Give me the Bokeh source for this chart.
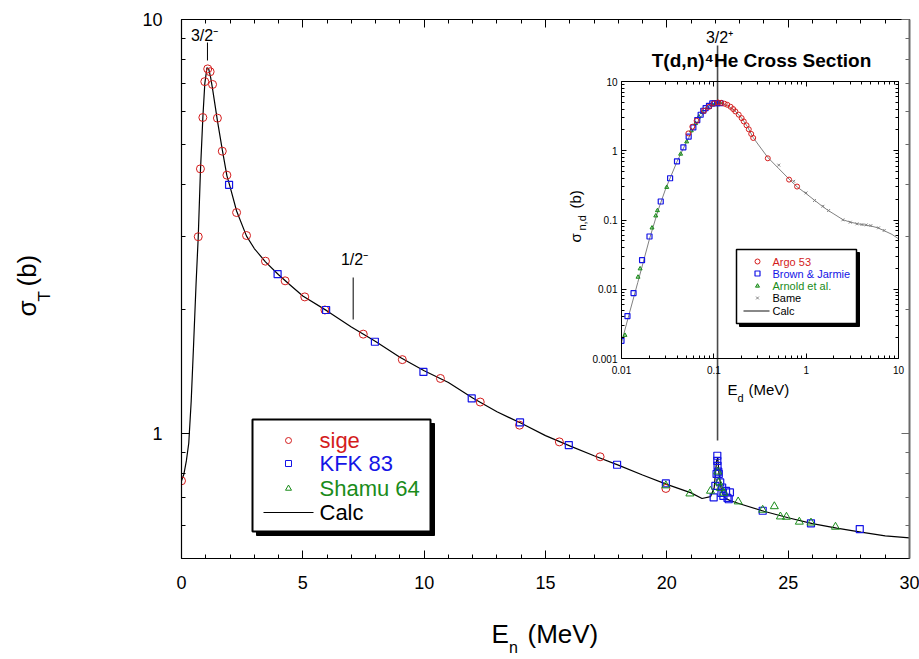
import math
from bokeh.plotting import figure
from bokeh.models import LinearAxis, LogAxis, FixedTicker, Label, CustomJSTickFormatter, Range1d
from bokeh.embed import file_html
from bokeh.resources import INLINE

# ---------------- main plot data: n + 3He total cross section ----------------
sige_E = [0.0, 0.69, 0.78, 0.88, 0.96, 1.08, 1.18, 1.28, 1.48, 1.68, 1.87, 2.27, 2.68,
          3.46, 4.27, 5.08, 5.91, 7.49, 9.10, 10.67, 12.31, 13.93, 15.57, 17.25, 19.96]
sige_sig = [0.77, 2.99, 4.36, 5.80, 7.08, 7.60, 7.48, 6.97, 5.78, 4.81, 4.21, 3.42, 3.01,
            2.61, 2.34, 2.14, 1.99, 1.74, 1.51, 1.36, 1.193, 1.049, 0.956, 0.88, 0.738]

kfk_E = [1.96, 3.96, 5.96, 7.97, 9.97, 11.96, 13.95, 15.96, 17.95, 19.96,
         21.93, 22.0, 22.05, 22.08, 22.08, 22.09, 22.12, 22.14, 22.2, 22.25, 22.28,
         22.33, 22.44, 22.5, 22.55, 22.6, 23.95, 25.94, 27.95]
kfk_sig = [3.99, 2.43, 1.99, 1.668, 1.41, 1.217, 1.065, 0.939, 0.842, 0.759,
           0.702, 0.749, 0.80, 0.885, 0.86, 0.837, 0.81, 0.80, 0.763, 0.72, 0.742,
           0.708, 0.728, 0.70, 0.695, 0.722, 0.652, 0.608, 0.589]

shamu_E = [19.96, 20.95, 21.8, 22.1, 22.14, 22.2, 22.35, 22.94, 23.95, 24.43, 24.68,
           24.93, 25.46, 25.94, 26.95]
shamu_sig = [0.75, 0.717, 0.728, 0.81, 0.763, 0.74, 0.72, 0.686, 0.655, 0.668, 0.631,
             0.630, 0.613, 0.61, 0.596]

calc_E = [0, 0.1, 0.2, 0.3, 0.4, 0.5, 0.6, 0.69, 0.78, 0.88, 0.96, 1.05, 1.12, 1.2, 1.28,
          1.48, 1.68, 1.87, 2.0, 2.27, 2.68, 3.0, 3.46, 4.0, 4.5, 5.0, 6.0, 7.0, 8.0, 9.0,
          10, 11, 12, 13, 14, 15, 16, 17, 18, 19, 20, 21, 21.45, 21.8, 21.95, 22.05,
          22.1, 22.15, 22.25, 22.4, 22.6, 23, 24, 25, 26, 27, 28, 29, 30]
calc_sig = [0.77, 0.80, 0.86, 0.95, 1.2, 1.65, 2.3, 2.99, 4.3, 5.8, 7.0, 7.65, 7.6, 7.25,
            6.8, 5.7, 4.85, 4.2, 3.95, 3.45, 3.0, 2.8, 2.6, 2.42, 2.28, 2.15, 1.98, 1.81,
            1.67, 1.53, 1.42, 1.33, 1.22, 1.13, 1.06, 0.99, 0.935, 0.885, 0.84, 0.795,
            0.755, 0.72, 0.698, 0.705, 0.74, 0.86, 0.875, 0.80, 0.73, 0.70, 0.69, 0.678,
            0.65, 0.627, 0.607, 0.592, 0.579, 0.567, 0.561]

level_E = [1.07, 7.075, 22.09]
level_labels = ["3/2\u207b", "1/2\u207b", "3/2\u207a"]

main_xticks = [0, 5, 10, 15, 20, 25, 30]
main_yticks = [1, 10]

legend_names = ["sige", "KFK 83", "Shamu 64", "Calc"]

# ---------------- inset data: T(d,n)4He ----------------
argo_E = [0.053, 0.0585, 0.0651, 0.0782, 0.0886, 0.100, 0.111, 0.120, 0.131, 0.140,
          0.152, 0.162, 0.171, 0.186, 0.200, 0.211, 0.226, 0.239, 0.254, 0.267, 0.384,
          0.653, 0.797]
argo_sig = [1.78, 2.22, 2.71, 3.78, 4.31, 4.82, 4.98, 4.93, 4.77, 4.61, 4.31, 4.0, 3.70,
            3.32, 2.96, 2.65, 2.33, 2.04, 1.75, 1.53, 0.778, 0.383, 0.304]

brown_E = [0.01, 0.0116, 0.0135, 0.0167, 0.0201, 0.0266, 0.0336, 0.0399, 0.0468, 0.0534,
           0.060, 0.0662, 0.0720, 0.0769, 0.0815, 0.0886, 0.0962, 0.102, 0.109, 0.118]
brown_sig = [0.0018, 0.0041, 0.0088, 0.0264, 0.0578, 0.185, 0.401, 0.704, 1.12, 1.60,
             2.17, 2.77, 3.31, 3.78, 4.13, 4.46, 4.82, 4.88, 4.88, 4.88]

arnold_E = [0.0109, 0.0151, 0.0159, 0.0214, 0.0235, 0.0245, 0.0309, 0.0437, 0.0508,
            0.057, 0.0635, 0.069, 0.075, 0.085, 0.096, 0.1045, 0.116]
arnold_sig = [0.00217, 0.015, 0.0198, 0.077, 0.115, 0.137, 0.297, 0.897, 1.35, 1.95,
              2.48, 3.10, 3.57, 4.22, 4.61, 4.88, 4.98]

bame_E = [0.505, 0.733, 0.997, 1.23, 1.52, 1.75, 2.50, 3.00, 3.55, 4.02, 4.47, 5.02,
          6.08, 7.0]
bame_sig = [0.62, 0.362, 0.246, 0.191, 0.158, 0.137, 0.1005, 0.093, 0.088, 0.086, 0.085,
            0.083, 0.077, 0.0706]

icalc_E = [0.01, 0.012, 0.015, 0.02, 0.025, 0.03, 0.04, 0.05, 0.06, 0.07, 0.08, 0.09,
           0.10, 0.11, 0.12, 0.14, 0.17, 0.2, 0.23, 0.267, 0.3, 0.384, 0.5, 0.653, 0.8,
           1.0, 1.25, 1.5, 1.75, 2.0, 2.5, 3.0, 4.0, 5.0, 6.0, 7.0, 8.5, 10]
icalc_sig = [0.0017, 0.0042, 0.0125, 0.052, 0.14, 0.28, 0.70, 1.30, 2.05, 2.9, 3.65, 4.3,
             4.75, 4.95, 4.9, 4.5, 3.75, 2.96, 2.25, 1.55, 1.25, 0.80, 0.56, 0.39, 0.30,
             0.24, 0.19, 0.157, 0.136, 0.122, 0.101, 0.093, 0.086, 0.082, 0.077, 0.07,
             0.062, 0.0535]

inset_xticks = [0.01, 0.1, 1, 10]
inset_yticks = [0.001, 0.01, 0.1, 1, 10]
inset_legend_names = ["Argo 53", "Brown & Jarmie", "Arnold et al.", "Bame", "Calc"]
inset_title = "T(d,n)\u2074He Cross Section"

# ---------------- styles ----------------
RED = "#d41c1c"
BLUE = "#1414e6"
GREEN = "#1a8c1a"
GRAY = "#808080"
FONT = "Liberation Sans"

W, H = 919, 659
FL, FR, FT, FB = 181, 909, 19, 558
X0, X1, Y0, Y1 = 0.0, 30.0, 0.5, 10.0


def mx(px):
    return X0 + (px - FL) / (FR - FL) * (X1 - X0)


def my(py):
    ly0, ly1 = math.log10(Y0), math.log10(Y1)
    return 10 ** (ly1 - (py - FT) / (FB - FT) * (ly1 - ly0))


def lab(fig, x, y, text, size, color="black", align="left", baseline="middle",
        angle=0.0, bold=False):
    fig.add_layout(Label(x=x, y=y, text=text, text_font=FONT,
                         text_font_size=f"{size}px", text_color=color,
                         text_align=align, text_baseline=baseline, angle=angle,
                         text_font_style="bold" if bold else "normal"))


def style_axis(ax, major_in, minor_in, size, standoff, labels=True, color="black", lw=1.2):
    ax.major_tick_in = major_in
    ax.major_tick_out = 0
    ax.minor_tick_in = minor_in
    ax.minor_tick_out = 0
    ax.axis_line_color = color
    ax.axis_line_width = lw
    ax.major_tick_line_color = color
    ax.minor_tick_line_color = color
    ax.major_label_text_font = FONT
    ax.major_label_text_font_size = f"{size}px"
    ax.major_label_standoff = standoff
    ax.major_label_text_color = "black"
    if labels:
        ax.formatter = CustomJSTickFormatter(code="return tick.toString();")
    else:
        ax.formatter = CustomJSTickFormatter(code="return '';")


# ================= main figure =================
p = figure(width=W, height=H, x_range=(X0, X1), y_range=(Y0, Y1), y_axis_type="log",
           output_backend="svg", toolbar_location=None,
           min_border_left=FL, min_border_right=W - FR, min_border_top=FT,
           min_border_bottom=H - FB)
p.xgrid.visible = False
p.ygrid.visible = False
p.outline_line_color = None
p.background_fill_color = "white"
p.border_fill_color = "white"

x_minor = list(range(0, 31))
y_minor = [0.6, 0.7, 0.8, 0.9] + list(range(2, 10))

p.xaxis.ticker = FixedTicker(ticks=main_xticks, minor_ticks=x_minor)
p.yaxis.ticker = FixedTicker(ticks=main_yticks, minor_ticks=y_minor)
style_axis(p.xaxis[0], 8, 4, 18, 17)
style_axis(p.yaxis[0], 8, 4, 18, 19)

top_ax = LinearAxis(ticker=FixedTicker(ticks=main_xticks, minor_ticks=x_minor))
style_axis(top_ax, 8, 4, 1, 0, labels=False)
p.add_layout(top_ax, "above")
right_ax = LogAxis(ticker=FixedTicker(ticks=main_yticks, minor_ticks=y_minor))
style_axis(right_ax, 8, 4, 1, 0, labels=False, color="#6a6a6a", lw=2)
p.add_layout(right_ax, "right")

# level markers
p.segment(x0=[level_E[2]], y0=[my(440)], x1=[level_E[2]], y1=[my(45)],
          line_color="#4a4a4a", line_width=1.6)
p.segment(x0=[level_E[0]], y0=[my(60)], x1=[level_E[0]], y1=[my(42)],
          line_color="black", line_width=1)
p.segment(x0=[level_E[1]], y0=[my(319)], x1=[level_E[1]], y1=[my(277)],
          line_color="black", line_width=1)
lab(p, mx(204), my(34.5), level_labels[0], 16, align="center")
lab(p, mx(354), my(258.5), level_labels[1], 16, align="center")
lab(p, mx(719), my(37), level_labels[2], 16, align="center")

# data
p.line(calc_E, calc_sig, line_color="black", line_width=1.2)
p.scatter(sige_E, sige_sig, marker="circle", size=8, line_color=RED, fill_color=None,
          line_width=1)
p.scatter(kfk_E, kfk_sig, marker="square", size=7, line_color=BLUE, fill_color=None,
          line_width=1.2)
p.scatter(shamu_E, shamu_sig, marker="triangle", size=8, line_color=GREEN,
          fill_color=None, line_width=1)

# legend (main)
p.quad(left=[mx(256)], right=[mx(434)], top=[my(423)], bottom=[my(535)],
       fill_color="black", line_color="black")
p.quad(left=[mx(252)], right=[mx(430)], top=[my(419)], bottom=[my(531)],
       fill_color="white", line_color="black", line_width=2)
p.scatter([mx(288)], [my(440)], marker="circle", size=6, line_color=RED, fill_color=None)
p.scatter([mx(288)], [my(463)], marker="square", size=6, line_color=BLUE, fill_color=None)
p.scatter([mx(288)], [my(488)], marker="triangle", size=6, line_color=GREEN,
          fill_color=None)
p.line([mx(263), mx(313)], [my(512), my(512)], line_color="black", line_width=1.2)
for name, yy, col in zip(legend_names, [440, 463, 488, 512], [RED, BLUE, GREEN, "black"]):
    lab(p, mx(319), my(yy), name, 22, color=col)

# inset title (drawn on the main canvas, above the inset)
lab(p, mx(761), my(60), inset_title, 19, align="center", bold=True)

# ================= inset figure =================
IPX, IPY, IW, IH = 555, 30, 350, 370
IL, IR, IT, IB = 621, 898, 81, 358


def ix(px):
    return 10 ** (-2 + (px - IL) / (IR - IL) * 3)


def iy(py):
    return 10 ** (1 - (py - IT) / (IB - IT) * 4)


ip = figure(width=IW, height=IH, x_axis_type="log", y_axis_type="log",
            x_range=(0.01, 10), y_range=(0.001, 10), output_backend="svg",
            toolbar_location=None, min_border_left=IL - IPX,
            min_border_right=IPX + IW - IR, min_border_top=IT - IPY,
            min_border_bottom=IPY + IH - IB)
ip.styles = {"position": "absolute", "left": f"{IPX}px", "top": f"{IPY}px"}
ip.background_fill_alpha = 0
ip.border_fill_alpha = 0
ip.outline_line_color = None
ip.xgrid.visible = False
ip.ygrid.visible = False

ix_minor = [k * 10 ** e for e in (-2, -1, 0) for k in range(2, 10)]
iy_minor = [k * 10 ** e for e in (-3, -2, -1, 0) for k in range(2, 10)]
ip.xaxis.ticker = FixedTicker(ticks=inset_xticks, minor_ticks=ix_minor)
ip.yaxis.ticker = FixedTicker(ticks=inset_yticks, minor_ticks=iy_minor)
style_axis(ip.xaxis[0], 5, 3, 10, 7, lw=1)
style_axis(ip.yaxis[0], 5, 3, 10, 4, lw=1)
itop = LogAxis(ticker=FixedTicker(ticks=inset_xticks, minor_ticks=ix_minor))
style_axis(itop, 5, 3, 1, 0, labels=False, lw=1)
ip.add_layout(itop, "above")
iright = LogAxis(ticker=FixedTicker(ticks=inset_yticks, minor_ticks=iy_minor))
style_axis(iright, 5, 3, 1, 0, labels=False, lw=1)
ip.add_layout(iright, "right")

ip.line(icalc_E, icalc_sig, line_color=GRAY, line_width=1)
ip.scatter(bame_E, bame_sig, marker="x", size=4, line_color=GRAY, line_width=1)
ip.scatter(arnold_E, arnold_sig, marker="triangle", size=4, line_color=GREEN,
           fill_color=GREEN, fill_alpha=0.4, line_width=1)
ip.scatter(brown_E, brown_sig, marker="square", size=5, line_color=BLUE,
           fill_color=None, line_width=1.2)
ip.scatter(argo_E, argo_sig, marker="circle", size=5, line_color=RED, fill_color=None,
           line_width=1)

# inset legend
ip.quad(left=[ix(739)], right=[ix(859)], top=[iy(252)], bottom=[iy(326)],
        fill_color="black", line_color="black")
ip.quad(left=[ix(736)], right=[ix(856)], top=[iy(249)], bottom=[iy(323)],
        fill_color="white", line_color="black", line_width=1.5)
ip.scatter([ix(757)], [iy(261)], marker="circle", size=5, line_color=RED, fill_color=None)
ip.scatter([ix(757)], [iy(273)], marker="square", size=5, line_color=BLUE, fill_color=None,
           line_width=1.2)
ip.scatter([ix(757)], [iy(285.5)], marker="triangle", size=4, line_color=GREEN,
           fill_color=GREEN, fill_alpha=0.4)
ip.scatter([ix(757)], [iy(297.5)], marker="x", size=4, line_color=GRAY)
ip.line([ix(743), ix(769)], [iy(310.5), iy(310.5)], line_color="#606060", line_width=1.5)
for name, yy, col in zip(inset_legend_names, [261, 273, 285.5, 297.5, 310.5],
                         [RED, BLUE, GREEN, "black", "black"]):
    lab(ip, ix(772), iy(yy), name, 11, color=col)

# ================= overlay for axis titles (page pixel coordinates) =================
ov = figure(width=W, height=H, x_range=Range1d(0, W), y_range=Range1d(H, 0),
            output_backend="svg", toolbar_location=None, min_border=0,
            x_axis_location=None, y_axis_location=None)
ov.styles = {"position": "absolute", "left": "0px", "top": "0px"}
ov.background_fill_alpha = 0
ov.border_fill_alpha = 0
ov.outline_line_color = None
ov.grid.visible = False

# main axis titles
lab(ov, 491, 633, "E", 26)
lab(ov, 508.5, 647, "n", 16)
lab(ov, 527, 633, "(MeV)", 26)
lab(ov, 26, 316, "\u03c3", 26, angle=math.pi / 2)
lab(ov, 44, 301, "T", 17, angle=math.pi / 2)
lab(ov, 26, 286, "(b)", 26, angle=math.pi / 2)
# inset axis titles
lab(ov, 727, 389, "E", 15)
lab(ov, 737, 397, "d", 11)
lab(ov, 748, 389, "(MeV)", 15)
lab(ov, 575, 242, "\u03c3", 15, angle=math.pi / 2)
lab(ov, 581, 230, "n,d", 11, angle=math.pi / 2)
lab(ov, 575, 208, "(b)", 15, angle=math.pi / 2)

open("out.html", "w").write(file_html([p, ip, ov], INLINE))
